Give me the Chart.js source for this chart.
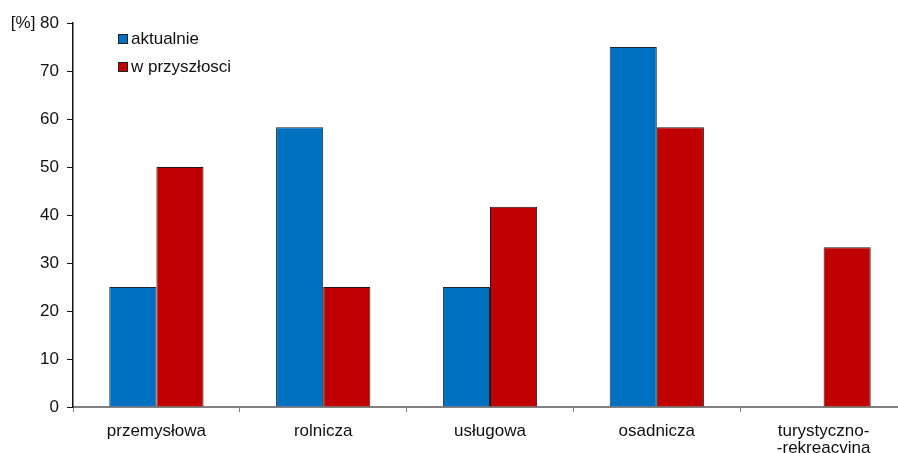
<!DOCTYPE html>
<html>
<head>
<meta charset="utf-8">
<script src="https://cdn.jsdelivr.net/npm/chart.js@4"></script>
<style>
  html, body { margin: 0; padding: 0; background: #fff; overflow: hidden; }
  #wrap { position: relative; width: 907px; height: 453px; }
  #legend { position: absolute; left: 118px; top: 25px; font: 17px "Liberation Sans", Arial, sans-serif; color: #111; }
  #legend div { height: 28px; display: flex; align-items: center; }
  #legend span.box { display: inline-block; width: 8px; height: 8px; border: 1px solid #222; margin-right: 3px; }
</style>
</head>
<body>
<div id="wrap">
  <canvas id="myChart" width="907" height="453"></canvas>
  <div id="legend"></div>
</div>
<script>
const categories = ['przemysłowa', 'rolnicza', 'usługowa', 'osadnicza', ['turystyczno-', '-rekreacvina']]
const aktualnie = [25, 58.3, 25, 75, null]
const wPrzyszlosci = [50, 25, 41.7, 58.3, 33.3]
const seriesNames = ['aktualnie', 'w przyszłosci']
const seriesColors = ['#0070C0', '#C00000']

Chart.defaults.font.family = '"Liberation Sans", Arial, sans-serif'
Chart.defaults.font.size = 17
Chart.defaults.color = '#111'

const legend = document.getElementById('legend')
seriesNames.forEach((name, i) => {
  const row = document.createElement('div')
  row.innerHTML = '<span class="box" style="background:' + seriesColors[i] + '"></span>' + name
  legend.appendChild(row)
})

var chart = new Chart(document.getElementById('myChart').getContext('2d'), {
  type: 'bar',
  data: {
    labels: categories,
    datasets: [
      { label: seriesNames[0], data: aktualnie, backgroundColor: seriesColors[0], borderColor: '#1c2530', borderWidth: 1 },
      { label: seriesNames[1], data: wPrzyszlosci, backgroundColor: seriesColors[1], borderColor: '#2a1515', borderWidth: 1 }
    ]
  },
  options: {
    responsive: false,
    animation: false,
    layout: { padding: { top: 23, right: 0, left: 0, bottom: 0 } },
    datasets: { bar: { categoryPercentage: 0.565, barPercentage: 1 } },
    plugins: { legend: { display: false }, tooltip: { enabled: false } },
    scales: {
      x: {
        grid: { drawOnChartArea: false, drawTicks: true, tickLength: 5, color: '#808080' },
        border: { color: '#808080', width: 2 },
        ticks: { padding: 11, maxRotation: 0, autoSkip: false, font: { size: 17, lineHeight: 1.0 } },
        afterFit: (scale) => { scale.height = 46 }
      },
      y: {
        min: 0,
        max: 80,
        grid: { drawOnChartArea: false, drawTicks: true, tickLength: 6, color: '#111' },
        border: { color: '#111', width: 1.5 },
        ticks: {
          stepSize: 10,
          padding: 8,
          font: { size: 17 },
          callback: (v) => v === 80 ? '[%] 80' : String(v)
        },
        afterFit: (scale) => { scale.width = 73 }
      }
    }
  }
})
</script>
</body>
</html>
